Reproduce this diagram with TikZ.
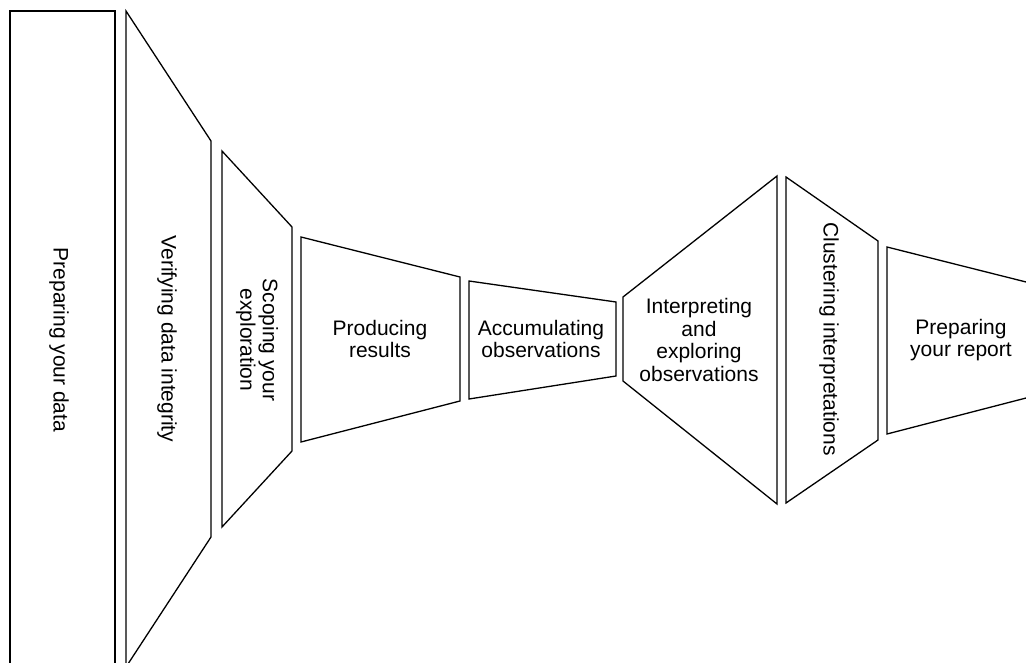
\documentclass[tikz,border=0pt]{standalone}
\usepackage{fontspec}
\setmainfont{Liberation Sans}
\begin{document}
\begin{tikzpicture}[x=1pt,y=-1pt,
  stage/.style={draw=black,line width=1.3pt,line join=miter},
  lbl/.style={font=\fontsize{21}{22.5}\selectfont,align=center,inner sep=0pt,text=black},
  vlbl/.style={lbl,rotate=-90}]
\useasboundingbox (0,0) rectangle (1026,663);
\begin{scope}
\clip (0,0) rectangle (1026,663);
\draw[stage] (10,11) -- (115,11) -- (115,667) -- (10,667) -- cycle;
\draw[stage] (126,11) -- (211,141) -- (211,537) -- (126,667) -- cycle;
\draw[stage] (222,151) -- (292,227) -- (292,451) -- (222,527) -- cycle;
\draw[stage] (301,237) -- (460,277) -- (460,401) -- (301,442) -- cycle;
\draw[stage] (469,281) -- (616,302) -- (616,376) -- (469,399) -- cycle;
\draw[stage] (623,297) -- (777,176) -- (777,504) -- (623,381) -- cycle;
\draw[stage] (786,177) -- (878,241) -- (878,440) -- (786,503) -- cycle;
\draw[stage] (887,247) -- (1040,285.5) -- (1040,394.4) -- (887,434) -- cycle;
\end{scope}
\node[vlbl] (t1) at (59,340) {Preparing your data};
\node[vlbl] (t2) at (167,339) {Verifying data integrity};
\node[vlbl] (t3) at (257,340) {Scoping your\\exploration};
\node[lbl] (t4) at (380,339) {Producing\\results};
\node[lbl] (t5) at (541,339) {Accumulating\\observations};
\node[lbl] (t6) at (699,340) {Interpreting\\and\\exploring\\observations};
\node[vlbl] (t7) at (829,339) {Clustering interpretations};
\node[lbl] (t8) at (961,340) {Preparing\\your report};
\end{tikzpicture}
\end{document}
